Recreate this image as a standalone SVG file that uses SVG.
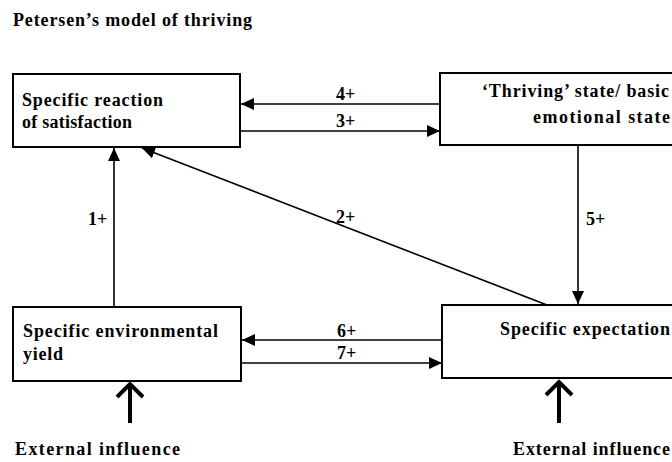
<svg xmlns="http://www.w3.org/2000/svg" width="672" height="462" viewBox="0 0 672 462">
<defs>
<style>
text{font-family:"Liberation Serif","Times New Roman",serif;font-weight:bold;font-size:18px;fill:#000}
.box{fill:#fff;stroke:#000;stroke-width:2}
.ln{stroke:#000;stroke-width:1.6;fill:none}
.ext{stroke:#000;stroke-width:4;fill:none}
</style>
<marker id="ah" markerUnits="userSpaceOnUse" markerWidth="14" markerHeight="14" viewBox="0 0 14 14" refX="13" refY="7" orient="auto">
<path d="M0,1 L13,7 L0,13 Z" fill="#000"/>
</marker>
</defs>
<rect width="672" height="462" fill="#fff"/>
<text x="13" y="26" textLength="239" lengthAdjust="spacing">Petersen’s model of thriving</text>
<g id="reaction">
<rect class="box" x="13" y="74" width="227" height="73"/>
<text x="22" y="106" textLength="141" lengthAdjust="spacing">Specific reaction</text>
<text x="22" y="128" textLength="110" lengthAdjust="spacing">of satisfaction</text>
</g>
<g id="thriving">
<rect class="box" x="440" y="73" width="245" height="72"/>
<text x="482" y="97" textLength="187" lengthAdjust="spacing">‘Thriving’ state/ basic</text>
<text x="533" y="123" textLength="137" lengthAdjust="spacing">emotional state</text>
</g>
<g id="yield">
<rect class="box" x="13" y="307" width="228" height="74"/>
<text x="23" y="337" textLength="195" lengthAdjust="spacing">Specific environmental</text>
<text x="23" y="360" textLength="40" lengthAdjust="spacing">yield</text>
</g>
<g id="expectation">
<rect class="box" x="442" y="305" width="243" height="73"/>
<text x="500" y="335" textLength="170" lengthAdjust="spacing">Specific expectation</text>
</g>
<g id="ext-left">
<path class="ext" d="M130,423 V384 M117,397 L130,384 L143,397"/>
<text x="15" y="455" textLength="165" lengthAdjust="spacing">External influence</text>
</g>
<g id="ext-right">
<path class="ext" d="M559,423 V382 M546,395 L559,382 L572,395"/>
<text x="513" y="455" textLength="157" lengthAdjust="spacing">External influence</text>
</g>
<g id="connectors">
<line class="ln" x1="440" y1="104" x2="241" y2="104" marker-end="url(#ah)"/>
<line class="ln" x1="240" y1="131" x2="440" y2="131" marker-end="url(#ah)"/>
<line class="ln" x1="114" y1="307" x2="114" y2="148" marker-end="url(#ah)"/>
<line class="ln" x1="547" y1="305" x2="142" y2="148" marker-end="url(#ah)"/>
<line class="ln" x1="578" y1="145" x2="578" y2="304" marker-end="url(#ah)"/>
<line class="ln" x1="442" y1="340" x2="242" y2="340" marker-end="url(#ah)"/>
<line class="ln" x1="241" y1="363" x2="442" y2="363" marker-end="url(#ah)"/>
<text x="336" y="100">4+</text>
<text x="336" y="127">3+</text>
<text x="88" y="225">1+</text>
<text x="336" y="223">2+</text>
<text x="586" y="225">5+</text>
<text x="337" y="337">6+</text>
<text x="337" y="359">7+</text>
</g>
</svg>
